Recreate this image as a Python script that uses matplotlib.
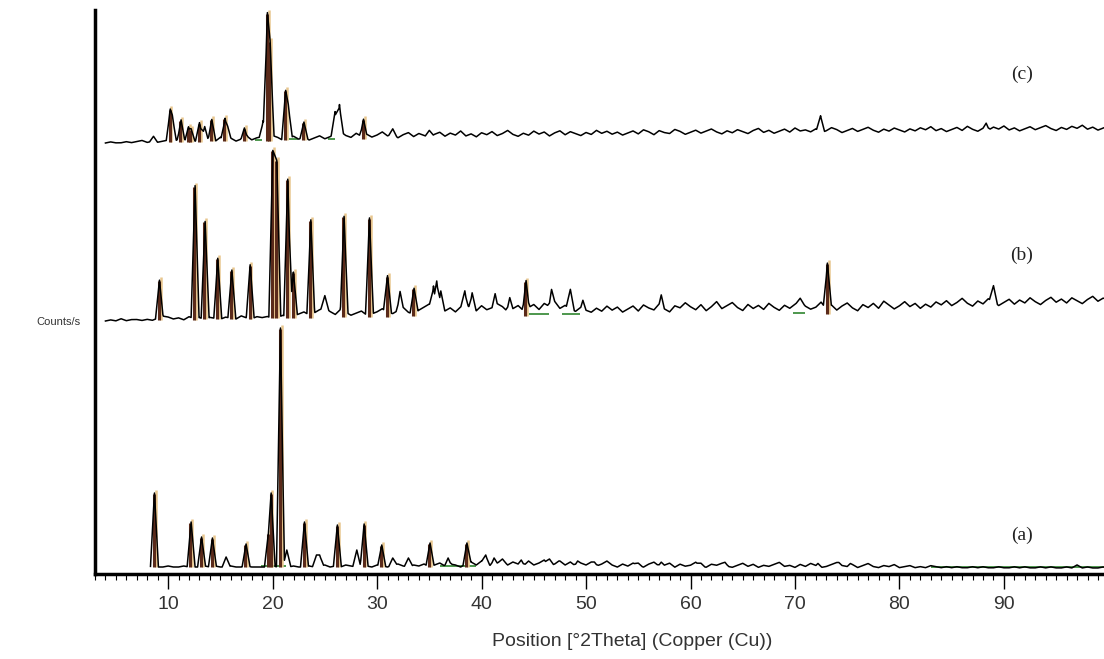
import numpy as np
import matplotlib
matplotlib.use("Agg")
import matplotlib.pyplot as plt

# 2-theta grid used for the background readings (every 0.5 deg)
bg_x = np.arange(4.0, 100.01, 0.5)

# ---- pattern (a) ----
start_a = 8.2
base_a_x = [4, 50, 100]
base_a_y = [7, 7, 6]
bg_a = [0, 1, 0, 1, 0, 0, 1, 0, 0, 1, 0, 0, 1, 0, 0, 1, 0, 0, 0, 1,
        0, 1, 0, 0, 1, 0, 0, 1, 0, 0, 0, 0, 1, 0, 0, 0, 1, 0, 0, 1,
        0, 1, 2, 0, 1, 0, 2, 1, 0, 2, 1, 0, 2, 1, 0, 2, 3, 1, 0, 2,
        1, 3, 0, 2, 4, 1, 3, 2, 0, 3, 5, 2, 6, 3, 1, 4, 7, 2, 5, 3,
        1, 6, 2, 4, 7, 1, 3, 6, 2, 5, 1, 4, 2, 5, 1, 3, 6, 2, 0, 3,
        1, 4, 2, 0, 3, 5, 1, 2, 4, 0, 3, 1, 2, 5, 1, 0, 3, 2, 4, 1,
        0, 2, 4, 1, 3, 0, 2, 1, 3, 5, 1, 2, 0, 3, 1, 4, 2, 0, 1, 3,
        5, 2, 1, 3, 0, 2, 4, 1, 0, 2, 1, 3, 0, 1, 2, 0, 1, 0, 2, 1,
        0, 1, 0, 1, 0, 0, 1, 0, 1, 0, 0, 1, 0, 0, 1, 0, 1, 0, 0, 1,
        0, 1, 0, 0, 1, 0, 3, 0, 1, 0, 0, 1, 0]
peaks_a_pos = [8.69, 12.2, 13.2, 14.24, 15.55, 17.46, 19.6, 19.86, 20.75, 21.36,
               23.05, 24.2, 24.5, 26.2, 28.06, 28.76, 30.45, 31.5, 33.0, 35.07,
               36.8, 38.6, 40.4, 41.2, 42.0, 43.8, 46.5, 47.4, 49.2, 50.8,
               55.0, 57.2, 61.0, 63.3, 66.0, 72.2, 74.2, 75.3, 97.0]
peaks_a_h = [74, 45, 30, 29, 10, 23, 34, 74, 239, 17,
             45, 12, 12, 42, 17, 43, 22, 9, 9, 24,
             9, 24, 12, 9, 8, 7, 8, 6, 6, 5,
             4, 5, 4, 5, 3, 4, 5, 4, 3]
sticks_a = [8.69, 12.2, 13.2, 14.24, 17.46, 19.6, 19.86, 20.75, 23.05, 26.2,
            28.76, 30.45, 35.07, 38.6]
green_a = [(18.9, 21.3), (36.0, 39.5), (83.0, 106.0)]

# ---- pattern (b) ----
start_b = 4.0
base_b_x = [4, 35, 75, 100]
base_b_y = [253, 258, 260, 266]
bg_b = [0, 1, 0, 2, 0, 1, 1, 0, 1, 0, 2, 4, 3, 1, 2, 0, 3, 1, 2, 0,
        2, 1, 0, 2, 1, 0, 3, 1, 0, 2, 1, 2, 0, 1, 3, 0, 2, 4, 6, 3,
        5, 8, 10, 6, 3, 8, 5, 2, 4, 6, 2, 3, 5, 8, 4, 3, 6, 9, 4, 2,
        6, 9, 12, 8, 10, 5, 8, 4, 9, 12, 7, 5, 10, 6, 8, 12, 9, 4, 7, 10,
        5, 8, 11, 6, 12, 9, 14, 7, 10, 6, 4, 8, 5, 3, 7, 4, 9, 5, 8, 3,
        6, 9, 4, 10, 7, 5, 11, 6, 3, 9, 7, 12, 8, 5, 10, 4, 8, 13, 6, 9,
        12, 7, 4, 10, 6, 9, 5, 11, 7, 4, 9, 6, 10, 14, 8, 5, 7, 12, 5, 9,
        4, 8, 11, 6, 3, 9, 6, 10, 5, 12, 8, 4, 7, 11, 6, 9, 4, 8, 5, 10,
        7, 11, 6, 9, 13, 8, 5, 10, 7, 12, 9, 5, 8, 11, 6, 10, 7, 12, 8, 5,
        9, 12, 7, 10, 6, 11, 8, 5, 9, 12, 7, 10, 8]
peaks_b_pos = [9.17, 12.58, 13.54, 14.75, 16.1, 17.85, 20.02, 20.4, 21.45, 21.99,
               23.66, 25.0, 26.84, 29.27, 31.0, 32.2, 33.54, 35.4, 35.71, 36.1,
               38.4, 39.1, 41.3, 42.7, 44.26, 46.7, 48.5, 49.7, 57.2, 70.5,
               73.1, 89.0]
peaks_b_h = [40, 134, 98, 61, 49, 54, 168, 158, 139, 46,
             98, 22, 101, 99, 41, 25, 28, 30, 35, 25,
             25, 23, 22, 18, 35, 26, 26, 15, 20, 16,
             51, 25]
sticks_b = [9.17, 12.58, 13.54, 14.75, 16.1, 17.85, 20.02, 20.4, 21.45, 21.99,
            23.66, 26.84, 29.27, 31.0, 33.54, 44.26, 73.1]
green_b = [(44.5, 46.5), (47.7, 49.4), (69.8, 71.0)]

# ---- pattern (c) ----
start_c = 4.0
base_c_x = [4, 30, 70, 100]
base_c_y = [431, 435, 440, 443]
bg_c = [0, 1, 0, 0, 1, 0, 1, 2, 0, 1, 0, 1, 2, 0, 3, 1, 2, 0, 3, 1,
        2, 0, 4, 1, 3, 0, 2, 5, 1, 3, 4, 2, 5, 3, 0, 2, 4, 1, 3, 0,
        2, 4, 1, 3, 6, 8, 4, 2, 6, 3, 5, 2, 4, 7, 3, 5, 1, 4, 6, 2,
        5, 3, 1, 4, 6, 2, 5, 3, 7, 2, 4, 1, 5, 3, 6, 2, 4, 7, 3, 1,
        4, 2, 6, 3, 5, 1, 4, 6, 2, 5, 3, 1, 4, 2, 6, 3, 5, 2, 4, 1,
        3, 5, 2, 6, 4, 1, 5, 3, 2, 6, 4, 1, 3, 5, 2, 4, 6, 3, 1, 4,
        2, 5, 3, 1, 4, 6, 2, 4, 1, 3, 5, 2, 6, 3, 4, 2, 5, 1, 3, 6,
        4, 1, 3, 5, 2, 4, 6, 3, 1, 4, 2, 5, 3, 1, 4, 2, 5, 3, 6, 2,
        4, 1, 3, 5, 2, 6, 3, 1, 4, 2, 5, 3, 6, 2, 4, 1, 3, 5, 2, 4,
        6, 3, 1, 4, 2, 5, 3, 6, 2, 4, 1, 3, 5]
peaks_c_pos = [8.6, 10.2, 10.4, 11.24, 11.95, 12.2, 13.0, 13.5, 14.18, 15.45,
               15.7, 17.3, 19.1, 19.5, 19.76, 21.25, 21.5, 23.0, 25.98, 26.4,
               28.7, 31.5, 35.0, 38.0, 72.45, 88.3]
peaks_c_h = [6, 33, 27, 22, 15, 13, 19, 15, 22, 23,
             15, 13, 20, 128, 100, 50, 36, 18, 28, 35,
             20, 10, 8, 6, 18, 9]
sticks_c = [10.2, 11.24, 11.95, 12.2, 13.0, 14.18, 15.45, 17.3, 19.5, 19.76,
            21.25, 23.0, 28.7]
green_c = [(18.3, 19.0), (21.6, 22.4), (25.3, 26.0)]

label_text = ["(a)", "(b)", "(c)"]
label_y = [39, 319, 500]
tick_pos = [10, 20, 30, 40, 50, 60, 70, 80, 90]

brown = "#5a2a1a"
tan = "#e8c68e"
green = "#3f8f3f"


def build_trace(bg, pos, h, base_x, base_y, start, hw=0.38):
    pos = np.asarray(pos, float)
    h = np.asarray(h, float)
    x = np.unique(np.concatenate([bg_x, pos - hw, pos, pos + hw]))
    rel = np.interp(x, bg_x, bg)
    for p, hh in zip(pos, h):
        tri = hh * np.clip(1 - np.abs(x - p) / hw, 0, None)
        rel = np.maximum(rel, tri)
    y = rel + np.interp(x, base_x, base_y)
    keep = x >= start
    return x[keep], y[keep]


plt.rcParams['font.family'] = ['Liberation Sans', 'DejaVu Sans']

fig = plt.figure(figsize=(11.04, 6.59), dpi=100)
ax = fig.add_axes([95 / 1104, 85 / 659, 1074 / 1104, 564 / 659])

patterns = [
    (bg_a, peaks_a_pos, peaks_a_h, base_a_x, base_a_y, start_a, sticks_a, green_a),
    (bg_b, peaks_b_pos, peaks_b_h, base_b_x, base_b_y, start_b, sticks_b, green_b),
    (bg_c, peaks_c_pos, peaks_c_h, base_c_x, base_c_y, start_c, sticks_c, green_c),
]

for bg, ppos, ph, bx, by, start, sticks, greens in patterns:
    x, y = build_trace(bg, ppos, ph, bx, by, start)
    # fitted background segments
    for x0, x1 in greens:
        yb = np.interp((x0 + x1) / 2, bx, by) + 1
        ax.hlines(yb, x0, x1, color=green, lw=1.3, zorder=2)
    # reference peak sticks
    for s in sticks:
        b = np.interp(s, bx, by)
        top = np.interp(s, x, y)
        ax.vlines(s + 0.12, b, top + 3, color=tan, lw=1.8, zorder=2)
        ax.vlines(s - 0.06, b, top - 1, color=brown, lw=2.2, zorder=2)
    ax.plot(x, y, color="black", lw=1.1, zorder=3)

for t, ly in zip(label_text, label_y):
    ax.text(91.7, ly, t, fontsize=14, family='Liberation Serif',
            ha='center', va='center', color='#222222')

ax.set_xlim(3.0, 105.8)
ax.set_ylim(0, 564)

for side in ['top', 'right']:
    ax.spines[side].set_visible(False)
for side in ['left', 'bottom']:
    ax.spines[side].set_linewidth(2.5)

ax.set_yticks([])
ax.set_xticks(tick_pos)
ax.set_xticks(np.arange(3, 106, 1), minor=True)
ax.tick_params(axis='x', which='major', direction='out', length=11, width=1.0,
               pad=5, labelsize=14, labelcolor='#333333')
ax.tick_params(axis='x', which='minor', direction='out', length=4, width=0.8)

ax.set_xlabel("Position [°2Theta] (Copper (Cu))", fontsize=14, color='#333333', labelpad=14)
fig.text(36 / 1104, 1 - 322 / 659, "Counts/s", fontsize=8,
         ha='left', va='center', color='#333333')

fig.savefig("out.png", dpi=100)
